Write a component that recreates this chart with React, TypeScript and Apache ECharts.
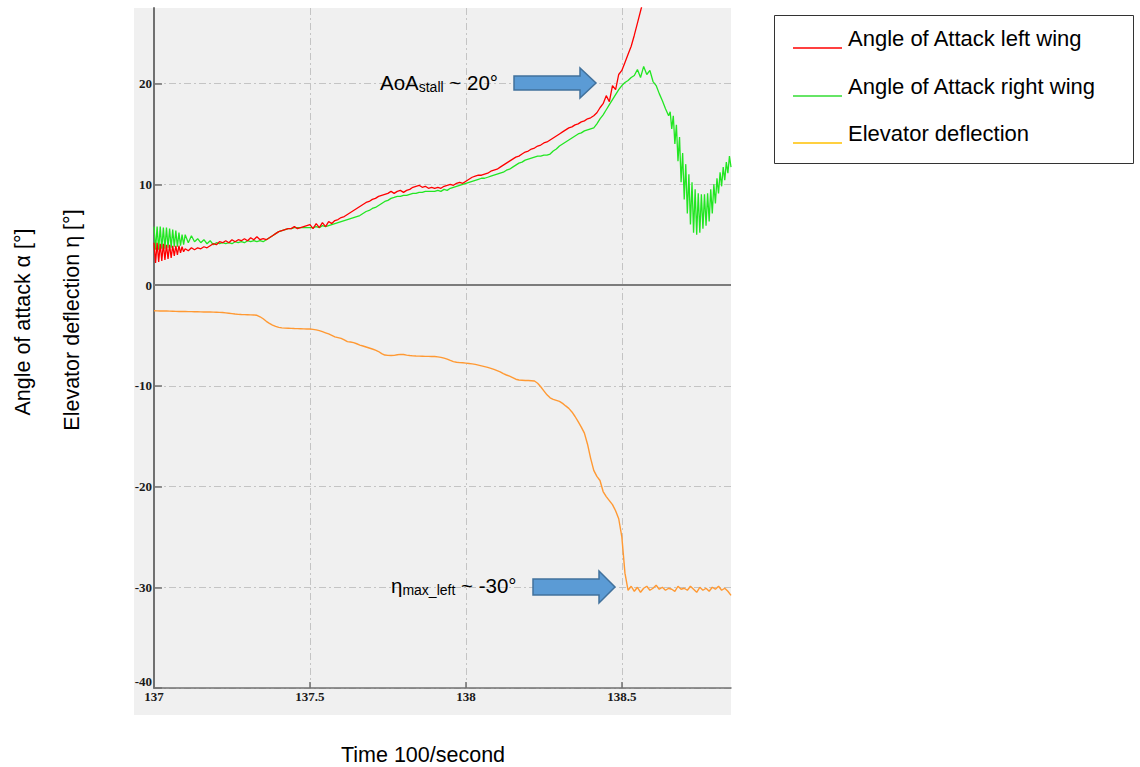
import React, { useEffect, useRef } from "react";
import * as echarts from "echarts";

// Main recordings: one reading every 10 ms; the oscillating stretches are kept at 5 ms
const DT = 0.01;
const DT_FINE = 0.005;

// Angle of attack, left wing [deg]
// onset: 137.000 .. 137.095 s (5 ms)
const aoaLeftOnset = [
  4.2, 2.2, 4.2, 2.3, 4.1, 2.4, 4.1, 2.5, 4.0, 2.6,
  4.0, 2.7, 3.9, 2.9, 3.9, 3.0, 3.9, 3.2, 3.8, 3.3,
];
// 137.10 .. 138.58 s (10 ms), leaves the plot at the top after stall
const aoaLeft = [
  3.6, 3.4, 3.7, 3.5, 3.7, 3.6, 3.8, 3.7, 3.9, 4.1,
  4.0, 4.3, 4.2, 4.4, 4.2, 4.5, 4.3, 4.5, 4.4, 4.6,
  4.4, 4.7, 4.5, 4.8, 4.5, 4.6, 4.5, 4.7, 4.9, 5.1,
  5.3, 5.4, 5.5, 5.6, 5.6, 5.8, 5.6, 5.7, 5.8, 5.9,
  6.0, 5.6, 6.1, 5.7, 6.2, 5.8, 6.3, 6.1, 6.4, 6.5,
  6.7, 6.8, 7.0, 7.2, 7.4, 7.6, 7.8, 8.0, 8.2, 8.3,
  8.5, 8.6, 8.8, 8.9, 9.0, 9.1, 9.3, 9.1, 9.3, 9.4,
  9.2, 9.4, 9.5, 9.7, 9.8, 9.9, 9.7, 9.8, 9.6, 9.7,
  9.6, 9.7, 9.6, 9.8, 9.9, 10.0, 9.9, 10.1, 10.2, 10.1,
  10.3, 10.5, 10.7, 10.8, 10.9, 10.9, 11.0, 11.1, 11.3, 11.4,
  11.5, 11.7, 11.9, 12.1, 12.3, 12.5, 12.7, 12.8, 13.0, 13.2,
  13.3, 13.5, 13.6, 13.8, 13.9, 14.1, 14.2, 14.4, 14.6, 14.8,
  15.0, 15.2, 15.4, 15.6, 15.7, 15.9, 16.0, 16.2, 16.3, 16.5,
  16.6, 16.8, 17.1, 17.6, 18.0, 18.8, 18.2, 19.8, 19.4, 20.9,
  21.3, 22.1, 22.9, 23.7, 24.8, 26.0, 27.2, 28.4, 29.6,
];

// Angle of attack, right wing [deg]
// onset: 137.000 .. 137.095 s (5 ms)
const aoaRightOnset = [
  5.8, 3.5, 5.8, 3.5, 5.8, 3.6, 5.7, 3.6, 5.7, 3.7,
  5.6, 3.7, 5.5, 3.8, 5.4, 3.8, 5.2, 3.9, 5.0, 4.0,
];
// 137.10 .. 138.65 s (10 ms)
const aoaRight = [
  5.0, 4.2, 4.9, 4.3, 4.6, 4.2, 4.5, 4.1, 4.4, 4.0,
  4.2, 4.1, 4.2, 4.1, 4.2, 4.1, 4.3, 4.2, 4.3, 4.2,
  4.4, 4.3, 4.4, 4.3, 4.4, 4.3, 4.5, 4.7, 4.9, 5.1,
  5.3, 5.4, 5.5, 5.6, 5.6, 5.7, 5.7, 5.7, 5.7, 5.7,
  5.7, 5.7, 5.8, 5.7, 5.9, 5.8, 5.9, 6.0, 6.1, 6.2,
  6.3, 6.4, 6.5, 6.6, 6.7, 6.8, 6.9, 7.1, 7.3, 7.4,
  7.6, 7.7, 7.9, 8.1, 8.3, 8.4, 8.6, 8.7, 8.8, 8.8,
  8.9, 8.9, 9.0, 9.1, 9.1, 9.2, 9.2, 9.3, 9.3, 9.3,
  9.3, 9.4, 9.3, 9.5, 9.4, 9.6, 9.7, 9.8, 9.9, 10.0,
  10.1, 10.2, 10.3, 10.4, 10.5, 10.6, 10.6, 10.7, 10.8, 10.9,
  11.0, 11.1, 11.2, 11.4, 11.5, 11.7, 11.9, 12.1, 12.2, 12.4,
  12.5, 12.6, 12.7, 12.8, 12.8, 12.9, 12.9, 13.0, 13.3, 13.5,
  13.8, 14.0, 14.2, 14.4, 14.6, 14.8, 15.0, 15.1, 15.3, 15.4,
  15.5, 15.6, 16.0, 16.5, 16.9, 17.4, 17.9, 18.4, 18.9, 19.4,
  19.8, 20.1, 20.3, 20.6, 20.8, 21.4, 20.6, 21.7, 20.9, 21.3,
  20.2, 19.8, 19.0, 18.3, 17.5, 16.8,
];
// post-stall buffeting: 138.655 .. 138.850 s (5 ms)
const aoaRightBuffet = [
  17.2, 15.5, 16.8, 14.0, 15.9, 12.3, 14.7, 10.2, 13.1, 8.5,
  12.0, 7.1, 11.0, 6.0, 10.2, 5.2, 9.5, 5.0, 9.1, 5.2,
  9.0, 5.6, 9.0, 5.9, 9.1, 6.3, 9.5, 7.1, 10.0, 8.1,
  10.6, 9.1, 11.2, 9.8, 11.7, 10.4, 12.2, 11.1, 12.8, 11.7,
];

// Elevator deflection [deg], 137.00 .. 138.85 s (10 ms)
const elevator = [
  -2.55, -2.56, -2.57, -2.57, -2.58, -2.59, -2.6, -2.61, -2.62, -2.62,
  -2.63, -2.64, -2.64, -2.65, -2.65, -2.66, -2.67, -2.68, -2.68, -2.69,
  -2.7, -2.71, -2.72, -2.76, -2.8, -2.84, -2.88, -2.91, -2.93, -2.94,
  -2.95, -2.96, -2.97, -3.0, -3.15, -3.35, -3.6, -3.8, -3.97, -4.1,
  -4.2, -4.25, -4.28, -4.29, -4.3, -4.32, -4.33, -4.34, -4.35, -4.36,
  -4.37, -4.4, -4.45, -4.53, -4.63, -4.74, -4.85, -5.0, -5.15, -5.22,
  -5.3, -5.45, -5.62, -5.66, -5.72, -5.83, -5.96, -6.05, -6.15, -6.25,
  -6.35, -6.47, -6.6, -6.8, -6.95, -6.98, -7.0, -6.98, -6.92, -6.88,
  -6.9, -6.96, -7.0, -7.03, -7.05, -7.06, -7.07, -7.08, -7.08, -7.09,
  -7.1, -7.13, -7.18, -7.25, -7.35, -7.48, -7.6, -7.66, -7.7, -7.72,
  -7.75, -7.79, -7.83, -7.88, -7.95, -8.02, -8.1, -8.18, -8.27, -8.38,
  -8.5, -8.62, -8.8, -8.93, -9.05, -9.2, -9.35, -9.43, -9.45, -9.47,
  -9.48, -9.5, -9.53, -9.75, -10.1, -10.5, -10.9, -11.2, -11.35, -11.45,
  -11.55, -11.75, -12.0, -12.24, -12.6, -13.05, -13.56, -14.1, -14.7, -15.8,
  -17.2, -18.4, -19.0, -19.4, -20.5, -21.0, -21.4, -21.8, -22.4, -23.2,
  -25.0, -28.6, -30.3, -29.9, -30.4, -30.0, -30.5, -30.1, -29.9, -30.3,
  -30.1, -29.8, -30.2, -30.0, -30.3, -30.1, -30.2, -30.4, -29.9, -30.2,
  -30.1, -30.3, -29.9, -30.2, -30.5, -30.0, -30.3, -30.1, -30.4, -30.0,
  -30.2, -29.9, -30.3, -30.1, -30.4, -30.8,
];

const yTicks = [-40, -30, -20, -10, 0, 10, 20];
const xTicks = [137, 137.5, 138, 138.5];

const seriesNames = [
  "Angle of Attack left wing",
  "Angle of Attack right wing",
  "Elevator deflection",
];
const lineColors = ["#ff0000", "#22e622", "#ff9933"];
const legendColors = ["#ff0000", "#33dd33", "#ffc000"];

const SANS = '"Liberation Sans", Arial, sans-serif';
const SERIF = '"Liberation Serif", "Times New Roman", serif';

function toPoints(values: number[], t0: number, dt: number): number[][] {
  return values.map((v, i) => [Number((t0 + i * dt).toFixed(3)), v]);
}

const gridLine = { color: "#c4c4c4", width: 1, type: [7, 3, 2, 3] as number[] };
const axisColor = "#707070";

function buildOption(): any {
  const leftData = [
    ...toPoints(aoaLeftOnset, 137, DT_FINE),
    ...toPoints(aoaLeft, 137.1, DT),
  ];
  const rightData = [
    ...toPoints(aoaRightOnset, 137, DT_FINE),
    ...toPoints(aoaRight, 137.1, DT),
    ...toPoints(aoaRightBuffet, 138.655, DT_FINE),
  ];
  const elevatorData = toPoints(elevator, 137, DT);

  const legendRows = [38, 86, 133];
  const legendItems: any[] = [
    {
      type: "rect",
      shape: { x: 774.5, y: 15.5, width: 359, height: 148 },
      style: { fill: "#ffffff", stroke: "#333333", lineWidth: 1 },
      z: 100,
    },
  ];
  seriesNames.forEach((name, i) => {
    legendItems.push({
      type: "line",
      shape: { x1: 793, y1: legendRows[i] + 10, x2: 842, y2: legendRows[i] + 10 },
      style: { stroke: legendColors[i], lineWidth: 1.5 },
      z: 101,
    });
    legendItems.push({
      type: "text",
      x: 848,
      y: legendRows[i],
      style: {
        text: name,
        fontSize: 22,
        fontFamily: SANS,
        fill: "#000",
        align: "left",
        verticalAlign: "middle",
      },
      z: 101,
    });
  });

  const annoRich = {
    a: { fontSize: 20.5, fontFamily: SANS, fill: "#000", lineHeight: 24 },
    s: { fontSize: 14, fontFamily: SANS, fill: "#000", lineHeight: 14, verticalAlign: "bottom" },
  };
  const arrowStyle = { fill: "#5b9bd5", stroke: "#41719c", lineWidth: 1.5 };
  const tickLabel = {
    fontFamily: SERIF,
    fontWeight: "bold",
    fontSize: 13,
    color: "#1a1a1a",
  };
  const titleStyle = {
    fontSize: 21.5,
    fontFamily: SANS,
    fill: "#000",
    align: "center",
    verticalAlign: "middle",
  };

  return {
    animation: false,
    grid: { left: 154, top: 8, right: 409, bottom: 79, containLabel: false },
    xAxis: {
      type: "value",
      min: 137,
      max: 138.85,
      interval: 0.5,
      axisLine: { show: true, onZero: false, lineStyle: { color: axisColor, width: 1.5 } },
      axisTick: {
        show: true,
        inside: true,
        length: 6,
        customValues: xTicks,
        lineStyle: { color: axisColor, width: 1.5 },
      },
      axisLabel: {
        ...tickLabel,
        customValues: xTicks,
        margin: 2,
        formatter: (v: number) => String(v),
      },
      splitLine: { show: true, showMinLine: false, lineStyle: gridLine },
    },
    yAxis: {
      type: "value",
      min: -40,
      max: 27.5,
      interval: 10,
      axisLine: { show: true, onZero: false, lineStyle: { color: axisColor, width: 2 } },
      axisTick: {
        show: true,
        inside: true,
        length: 8,
        customValues: yTicks,
        lineStyle: { color: axisColor, width: 1.5 },
      },
      axisLabel: {
        ...tickLabel,
        customValues: yTicks,
        margin: 2,
        verticalAlignMinLabel: "bottom",
      },
      splitLine: { show: true, lineStyle: gridLine },
    },
    series: [
      {
        name: seriesNames[1],
        type: "line",
        data: rightData,
        showSymbol: false,
        symbol: "none",
        clip: true,
        lineStyle: { color: lineColors[1], width: 1.3 },
        z: 2,
      },
      {
        name: seriesNames[0],
        type: "line",
        data: leftData,
        showSymbol: false,
        symbol: "none",
        clip: true,
        lineStyle: { color: lineColors[0], width: 1.3 },
        z: 3,
      },
      {
        name: seriesNames[2],
        type: "line",
        data: elevatorData,
        showSymbol: false,
        symbol: "none",
        clip: true,
        lineStyle: { color: lineColors[2], width: 1.4 },
        z: 3,
        markLine: {
          silent: true,
          symbol: "none",
          label: { show: false },
          lineStyle: { color: "#7c7c7c", width: 2, type: "solid" },
          data: [{ yAxis: 0 }],
        },
      },
    ],
    graphic: {
      elements: [
        {
          type: "rect",
          shape: { x: 134, y: 8, width: 597, height: 707 },
          style: { fill: "#f0f0f0" },
          z: -100,
          silent: true,
        },
        {
          type: "text",
          x: 23,
          y: 322,
          rotation: Math.PI / 2,
          style: { ...titleStyle, text: "Angle of attack α [°]" },
        },
        {
          type: "text",
          x: 72,
          y: 320,
          rotation: Math.PI / 2,
          style: { ...titleStyle, text: "Elevator deflection η [°]" },
        },
        {
          type: "text",
          x: 423,
          y: 755,
          style: { ...titleStyle, text: "Time 100/second" },
        },
        {
          type: "text",
          x: 380,
          y: 82,
          style: {
            text: "{a|AoA}{s|stall}{a| ~ 20°}",
            rich: annoRich,
            align: "left",
            verticalAlign: "middle",
          },
          z: 50,
        },
        {
          type: "polygon",
          shape: {
            points: [[514, 76], [580, 76], [580, 68], [596, 83], [580, 98], [580, 90], [514, 90]],
          },
          style: arrowStyle,
          z: 50,
        },
        {
          type: "text",
          x: 391,
          y: 585,
          style: {
            text: "{a|η}{s|max_left}{a| ~ -30°}",
            rich: annoRich,
            align: "left",
            verticalAlign: "middle",
          },
          z: 50,
        },
        {
          type: "polygon",
          shape: {
            points: [[533, 579], [599, 579], [599, 571], [615, 587], [599, 603], [599, 595], [533, 595]],
          },
          style: arrowStyle,
          z: 50,
        },
        ...legendItems,
      ],
    },
  };
}

export default function App() {
  const ref = useRef<HTMLDivElement>(null);
  useEffect(() => {
    if (!ref.current) return;
    const chart = echarts.init(ref.current, undefined, { renderer: "svg" });
    chart.setOption(buildOption());
    return () => chart.dispose();
  }, []);
  return (
    <div
      ref={ref}
      style={{ position: "absolute", left: 0, top: 0, width: 1140, height: 767, background: "#ffffff" }}
    />
  );
}
